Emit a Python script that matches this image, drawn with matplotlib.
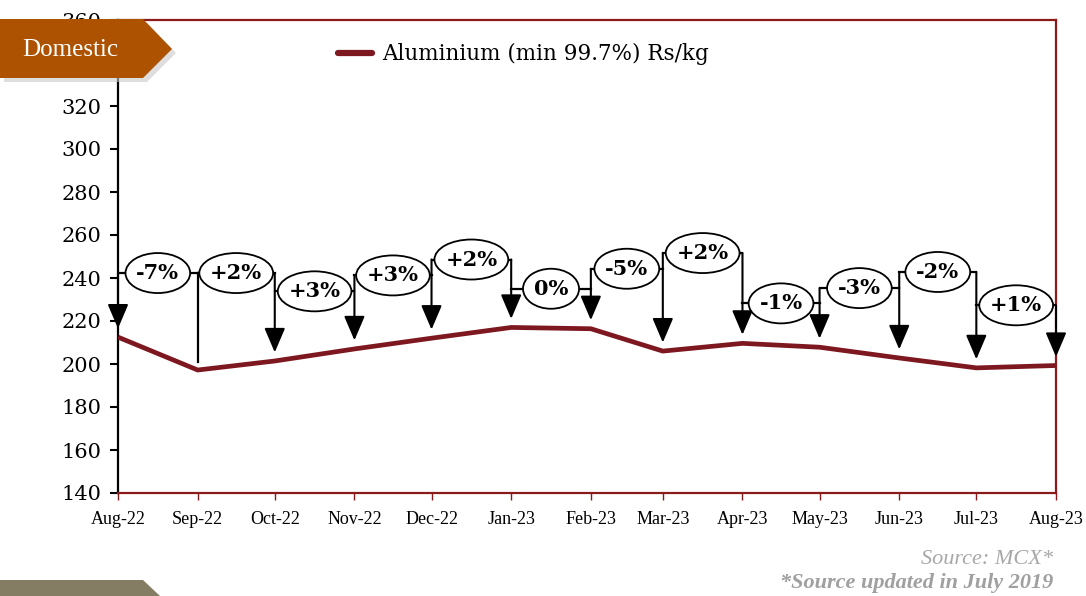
import datetime as dt

import matplotlib
matplotlib.use("Agg")
import matplotlib.pyplot as plt
import matplotlib.dates as mdates
from matplotlib.patches import Polygon
from matplotlib.path import Path

# data
months = ["Aug-22", "Sep-22", "Oct-22", "Nov-22", "Dec-22", "Jan-23", "Feb-23",
          "Mar-23", "Apr-23", "May-23", "Jun-23", "Jul-23", "Aug-23"]
prices = [212.5, 197.2, 201.4, 207.0, 212.0, 217.0, 216.4,
          206.0, 209.6, 207.8, 202.8, 198.2, 199.3]
pct_labels = ["-7%", "+2%", "+3%", "+3%", "+2%", "0%",
              "-5%", "+2%", "-1%", "-3%", "-2%", "+1%"]
callout_level = [242.3, 242.3, 233.8, 241.2, 248.6, 235.0,
                 244.3, 251.6, 228.2, 235.3, 242.8, 227.3]

series_name = "Aluminium (min 99.7%) Rs/kg"
dates = [dt.datetime.strptime(m, "%b-%y") for m in months]
x = mdates.date2num(dates)

LINE_RED = "#7E1820"
SPINE_RED = "#8B1A1A"
ORANGE = "#AD5200"


def oval_box(x0, y0, width, height, mutation_size):
    # ellipse around the text, a bit rounder than matplotlib's own "ellipse"
    a = width / 2 + 0.52 * mutation_size
    b = height / 2 + 0.48 * mutation_size
    circ = Path.unit_circle()
    return Path(circ.vertices * [a, b] + [x0 + width / 2, y0 + height / 2], circ.codes)


fig = plt.figure(figsize=(10.86, 5.96), dpi=100)
ax = fig.add_axes([118 / 1086, 1 - 493 / 596, 938 / 1086, 473 / 596])

ax.plot(x, prices, color=LINE_RED, lw=3.4, solid_capstyle="butt", label=series_name, zorder=3)

# callout brackets: horizontal line at a level, label in an ellipse, arrows down to points
for i, lab in enumerate(pct_labels):
    lvl = callout_level[i]
    ax.plot([x[i], x[i + 1]], [lvl, lvl], color="black", lw=1.6, zorder=4)
    ax.text((x[i] + x[i + 1]) / 2, lvl, lab, ha="center", va="center",
            family="DejaVu Serif", fontweight="bold", fontsize=15, zorder=6,
            bbox=dict(boxstyle=oval_box, fc="white", ec="black", lw=1.3))

for j in range(len(x)):
    tops = []
    if j > 0:
        tops.append(callout_level[j - 1])
    if j < len(pct_labels):
        tops.append(callout_level[j])
    top = max(tops)
    if j == 1:
        # Sep-22 has a plain stem in the source
        ax.plot([x[j], x[j]], [top, prices[j] + 3.8], color="black", lw=1.6, zorder=4)
        continue
    ax.annotate("", xy=(x[j], prices[j] + 4.0), xytext=(x[j], top),
                arrowprops=dict(arrowstyle="-|>,head_length=0.75,head_width=0.32",
                                color="black", lw=1.5, shrinkA=0, shrinkB=0,
                                mutation_scale=20),
                zorder=5)

ax.set_ylim(140, 360)
ax.set_yticks(range(140, 361, 20))
ax.set_xlim(x[0], x[-1])
ax.set_xticks(x)
ax.xaxis.set_major_formatter(mdates.DateFormatter("%b-%y"))

for lbl in ax.get_yticklabels():
    lbl.set_family("DejaVu Serif")
    lbl.set_fontsize(15)
for lbl in ax.get_xticklabels():
    lbl.set_family("Liberation Serif")
    lbl.set_fontsize(13)

ax.tick_params(axis="y", direction="out", length=6, width=1.5, color="black", pad=6)
ax.tick_params(axis="x", direction="out", length=5, width=1.0, color=SPINE_RED, pad=8)

for side in ["top", "right", "bottom"]:
    ax.spines[side].set_color(SPINE_RED)
    ax.spines[side].set_linewidth(1.6)
ax.spines["left"].set_color("black")
ax.spines["left"].set_linewidth(1.6)

leg = ax.legend(loc="center left", bbox_to_anchor=((338 - 118) / 938, (493 - 54) / 473),
                frameon=False, prop=dict(family="DejaVu Serif", size=15.5),
                handlelength=1.6, handletextpad=0.45, borderpad=0, borderaxespad=0)
leg.get_lines()[0].set_linewidth(4.5)
leg.get_lines()[0].set_solid_capstyle("round")

# "Domestic" tag top left, with a soft shadow
W, H = 1086, 596


def fpoly(pts, **kw):
    return Polygon([(px / W, 1 - py / H) for px, py in pts], closed=True,
                   transform=fig.transFigure, **kw)


tag = [(0, 19), (143, 19), (172, 49), (143, 78), (0, 78)]
fig.patches.append(fpoly([(px + 4, py + 4) for px, py in tag], fc="#C8C8C8", ec="none", alpha=0.6, zorder=9))
fig.patches.append(fpoly(tag, fc=ORANGE, ec="none", zorder=10))
fig.text(70 / W, 1 - 50 / H, "Domestic", color="white", family="Liberation Serif",
         fontsize=18, ha="center", va="center", zorder=11)

# bottom-left footer tab
fig.patches.append(fpoly([(0, 580), (143, 580), (160, 596), (0, 596)], fc="#857C64", ec="none", zorder=10))

fig.text(1053 / W, 1 - 560 / H, "Source: MCX*", color="#A8A8A8", family="Liberation Serif",
         style="italic", fontsize=16, ha="right", va="center")
fig.text(1053 / W, 1 - 583 / H, "*Source updated in July 2019", color="#A0A0A0",
         family="Liberation Serif", style="italic", fontweight="bold", fontsize=16,
         ha="right", va="center")

fig.savefig("out.png", dpi=100)
